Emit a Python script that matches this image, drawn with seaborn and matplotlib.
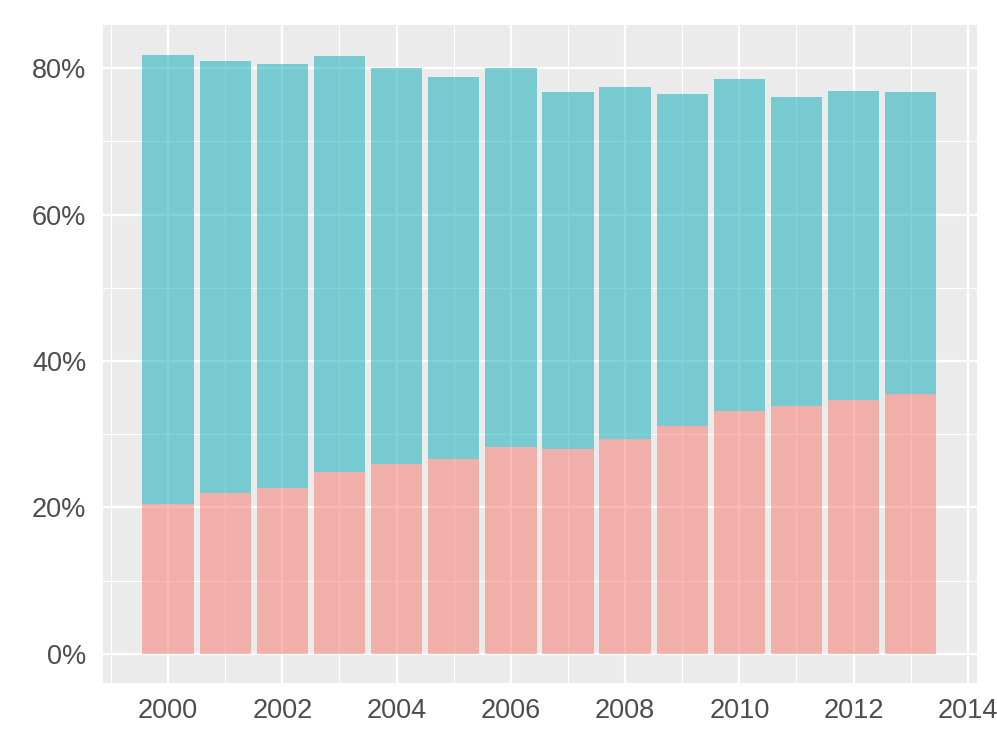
import matplotlib
matplotlib.use("Agg")
import matplotlib.pyplot as plt
import seaborn as sns
import pandas as pd
from matplotlib.ticker import PercentFormatter, MultipleLocator

years = [2000, 2001, 2002, 2003, 2004, 2005, 2006, 2007, 2008, 2009, 2010, 2011, 2012, 2013]
lower_share = [20.4, 21.9, 22.6, 24.8, 25.9, 26.6, 28.3, 28.0, 29.3, 31.1, 33.1, 33.9, 34.6, 35.5]
total_share = [81.8, 81.0, 80.6, 81.6, 80.0, 78.8, 80.0, 76.7, 77.4, 76.5, 78.5, 76.1, 76.9, 76.8]
upper_share = [t - l for t, l in zip(total_share, lower_share)]
groups = ["upper", "lower"]

df = pd.DataFrame({
    "year": years * 2,
    "value": upper_share + lower_share,
    "group": [groups[0]] * len(years) + [groups[1]] * len(years),
})

sns.set_style("white")
plt.rcParams["font.family"] = ["Liberation Sans", "DejaVu Sans"]

fig = plt.figure(figsize=(9.97, 7.33), dpi=100)
ax = fig.add_axes([103 / 997, 50 / 733, 874 / 997, 658 / 733])
ax.set_facecolor("#EBEBEB")

sns.histplot(data=df, x="year", weights="value", hue="group",
             hue_order=["upper", "lower"],
             palette={"upper": "#05ADB7", "lower": "#F8746B"},
             multiple="stack", discrete=True, shrink=0.9,
             alpha=0.5, linewidth=0, legend=False, ax=ax)

ax.set_xlim(1998.86, 2014.16)
ax.set_ylim(-4.0, 85.9)
ax.xaxis.set_major_locator(MultipleLocator(2))
ax.xaxis.set_minor_locator(MultipleLocator(1))
ax.yaxis.set_major_locator(MultipleLocator(20))
ax.yaxis.set_minor_locator(MultipleLocator(10))
ax.yaxis.set_major_formatter(PercentFormatter(xmax=100, decimals=0))

ax.set_axisbelow(True)
ax.grid(which="major", color="white", linewidth=1.7)
ax.grid(which="minor", color="white", linewidth=0.85)
for s in ax.spines.values():
    s.set_visible(False)

ax.tick_params(axis="both", which="major", length=6.5, width=2.0, color="#333333",
               labelsize=19.5, labelcolor="#4D4D4D")
ax.tick_params(axis="y", which="major", pad=5.5)
ax.tick_params(axis="x", which="major", pad=4.5)
ax.tick_params(axis="both", which="minor", length=0)
ax.set_xlabel("")
ax.set_ylabel("")

fig.savefig("out.png", dpi=100)
